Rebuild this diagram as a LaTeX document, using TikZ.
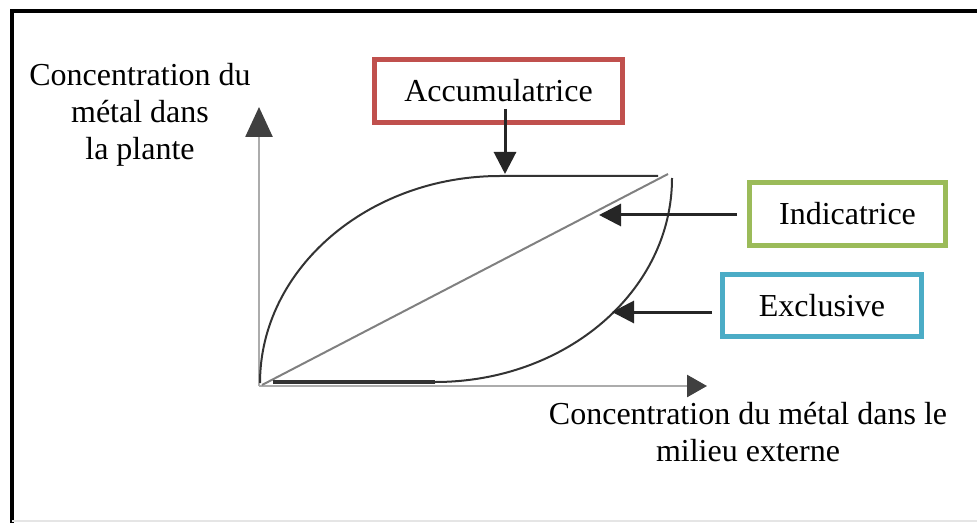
\documentclass[tikz,border=0pt]{standalone}
\usepackage{fontspec}
\setmainfont{Liberation Serif}
\usetikzlibrary{arrows.meta,positioning}

\definecolor{accred}{HTML}{C0504D}
\definecolor{indgreen}{HTML}{9BBB59}
\definecolor{excblue}{HTML}{4BACC6}

\begin{document}
\begin{tikzpicture}[
  x=0.5pt, y=-0.5pt,
  >=Latex,
  every node/.style={font=\fontsize{16}{18.5}\selectfont},
  box/.style={draw, line width=2.5pt, minimum height=31.5pt, inner sep=0pt},
  axis/.style={draw=gray!65, line width=1.3pt},
  ptr/.style={line width=1.5pt, black!85, -{Triangle[length=11pt, width=11pt]}},
  curve/.style={line width=1pt, black!80}
]
  \useasboundingbox (0,0) rectangle (977,523);

  %--- frame
  \draw[line width=2pt] (12,523) -- (12,11) -- (977,11);
  \draw[gray!20, line width=1pt] (12,521) -- (977,521);

  %--- axes
  \coordinate (O)    at (259,386);
  \coordinate (ytip) at (259,107);
  \coordinate (xtip) at (707,386);
  \draw[axis, -{Triangle[length=15pt, width=13.5pt, fill=black!75, color=black!75]}] (O) -- (ytip);
  \draw[axis, -{Triangle[length=10pt, width=11pt, fill=black!75, color=black!75]}] (O) -- (xtip);

  %--- curves
  \draw[curve] (260,383) .. controls (260,269) and (368,176) .. (500,176) -- (658,176);
  \draw[curve, gray] (262,385) -- (668,174);
  \draw[curve, line width=1.6pt] (273,382) -- (435,382);
  \draw[curve] (435,382) .. controls (566,382) and (672,291) .. (672,178);

  %--- labels
  \node[align=center] (ylab) at (140,115) {Concentration du\\m\'etal dans\\la plante};
  \node[align=center] (xlab) at (748,432) {Concentration du m\'etal dans le\\milieu externe};

  \node[box, draw=accred,   minimum width=124pt] (acc) at (498.5,91)  {Accumulatrice};
  \node[box, draw=indgreen, minimum width=98pt]  (ind) at (847.5,214) {Indicatrice};
  \node[box, draw=excblue,  minimum width=99.5pt, minimum height=31pt] (exc) at (822,305.5) {Exclusive};

  %--- pointers
  \coordinate (accpt) at (505,174);
  \coordinate (indpt) at (599,215);
  \coordinate (excpt) at (612,312);
  \draw[ptr] ([yshift=8pt]acc.south -| accpt) -- (accpt);
  \draw[ptr, shorten <=5pt] (ind.west |- indpt) -- (indpt);
  \draw[ptr, shorten <=4pt] (exc.west |- excpt) -- (excpt);

\end{tikzpicture}
\end{document}
